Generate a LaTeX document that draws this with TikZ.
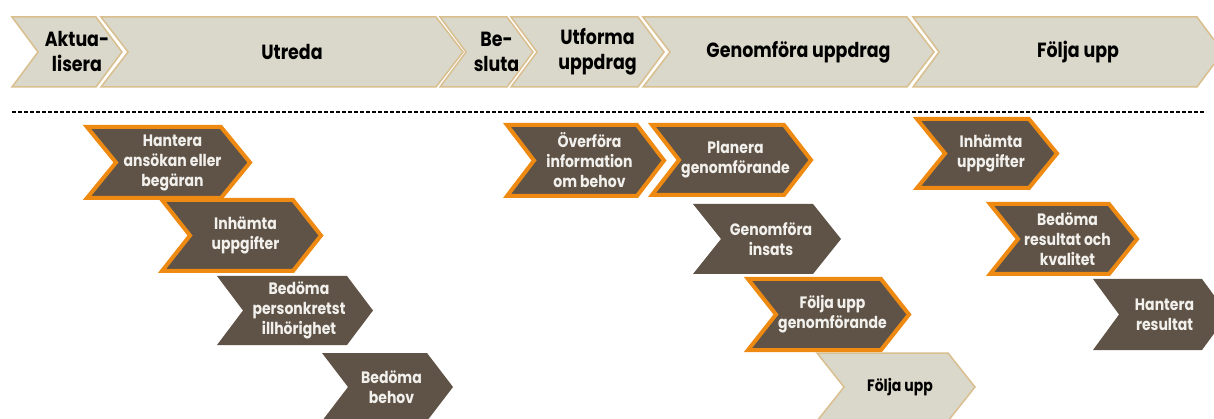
\documentclass[tikz,border=0pt]{standalone}
\usepackage{fontspec}
\setmainfont{Poppins}[FakeStretch=0.85]
\usetikzlibrary{calc}

\definecolor{phasefill}{HTML}{DAD8CA}
\definecolor{phaseline}{HTML}{D9BE8E}
\definecolor{taskbrown}{HTML}{5F5347}
\definecolor{taskorange}{HTML}{EE8A12}
\definecolor{tasktext}{HTML}{F2F0EC}

% chevron: style, name, left, top, bottom, top right, tip, text
\newcommand{\chev}[8]{%
  \draw[#1] (#3,#4) -- (#6,#4) -- (#7,{(#4+#5)/2}) -- (#6,#5) -- (#3,#5) -- ({#3+#7-#6},{(#4+#5)/2}) -- cycle;
  \node[#1 text] (#2) at ({(#3+#7)/2},{(#4+#5)/2}) {#8};
}

\tikzset{
  phase/.style={fill=phasefill, draw=phaseline, line width=1.5pt},
  phase text/.style={font=\bfseries\fontsize{20.5}{25}\selectfont, align=center, xshift=10pt, text=black},
  task/.style={fill=taskbrown, draw=none},
  task text/.style={font=\bfseries\fontsize{16.5}{20}\selectfont, align=center, xshift=4pt, text=tasktext},
  taskhl/.style={task, draw=taskorange, line width=4pt},
  taskhl text/.style={task text},
  taskfollow/.style={phase},
  taskfollow text/.style={task text, text=black}
}

\begin{document}
\begin{tikzpicture}[x=1pt,y=-1pt]
\useasboundingbox (0,0) rectangle (1214,419);
\clip (0,0) rectangle (1214,419);

% phases
\chev{phase}{aktualisera}{12}{17}{87}{96}{122}{Aktua-\\lisera}
\chev{phase}{utreda}{101}{17}{87}{436}{463}{Utreda}
\chev{phase}{besluta}{440}{17}{87}{507}{533}{Be-\\sluta}
\chev{phase}{utforma}{511}{17}{87}{638}{664}{Utforma\\uppdrag}
\chev{phase}{genomfora}{643}{17}{87}{907}{934}{Genomföra uppdrag}
\chev{phase}{folja}{913}{17}{87}{1197}{1223}{Följa upp}

\coordinate (dashL) at (12,112);
\coordinate (dashR) at (1206,112);
\draw[black, line width=1.8pt, dash pattern=on 4pt off 2pt] (dashL) -- (dashR);

% utreda
\chev{taskhl}{hantera}{87}{127}{198}{221}{250}{Hantera\\ansökan eller\\begäran}
\chev{taskhl}{inhamta}{162}{200}{271}{293}{321}{Inhämta\\uppgifter}
\chev{task}{personkrets}{217}{276}{345}{347}{373}{Bedöma\\personkretst\\illhörighet}
\chev{task}{behov}{322}{353}{421}{427}{453}{Bedöma\\behov}

% utforma och genomfora
\chev{taskhl}{overfora}{507}{125}{196}{637}{664}{Överföra\\information\\om behov}
\chev{taskhl}{planera}{652}{125}{195}{784}{811}{Planera\\genomförande}
\chev{task}{insats}{693}{204}{274}{813}{841}{Genomföra\\insats}
\chev{taskhl}{foljagenom}{748}{279}{350}{881}{909}{Följa upp\\genomförande}
\chev{taskfollow}{foljaupp}{817}{353}{421}{948}{975}{Följa upp}

% folja upp
\chev{taskhl}{inhamta2}{917}{119}{188}{1029}{1057}{Inhämta\\uppgifter}
\chev{taskhl}{kvalitet}{990}{204}{274}{1109}{1137}{Bedöma\\resultat och\\kvalitet}
\chev{task}{resultat}{1093}{279}{350}{1202}{1228}{Hantera\\resultat}
\end{tikzpicture}
\end{document}
